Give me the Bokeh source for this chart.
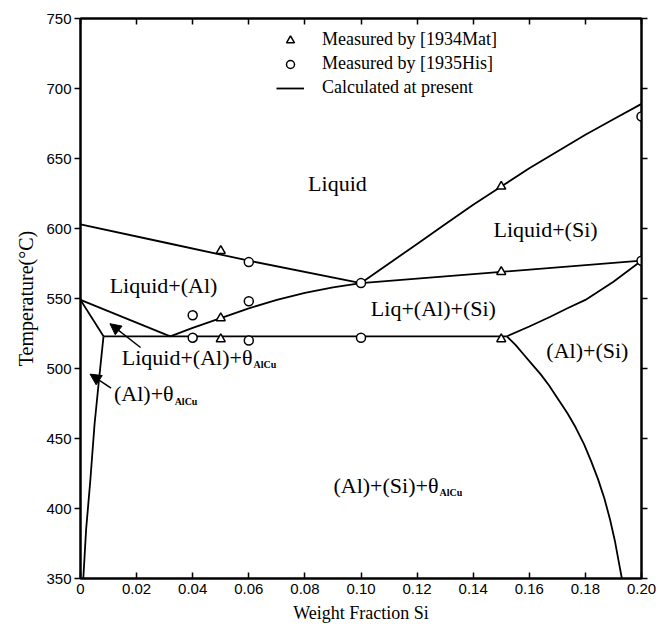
from bokeh.plotting import figure
from bokeh.models import (Range1d, LinearAxis, FixedTicker, Legend, LegendItem,
                          Arrow, NormalHead)
from bokeh.core.properties import value
from bokeh.embed import file_html
from bokeh.resources import INLINE

# ---------------- data ----------------
x_ticks = [0, 0.02, 0.04, 0.06, 0.08, 0.10, 0.12, 0.14, 0.16, 0.18, 0.20]
x_tick_labels = ["0", "0.02", "0.04", "0.06", "0.08", "0.10", "0.12", "0.14", "0.16", "0.18", "0.20"]
y_ticks = [350, 400, 450, 500, 550, 600, 650, 700, 750]

# measured points
mat_x = [0.05, 0.05, 0.05, 0.15, 0.15, 0.15]
mat_t = [584, 536, 521, 630, 569, 521]
his_x = [0.04, 0.04, 0.06, 0.06, 0.06, 0.10, 0.10, 0.20, 0.20]
his_t = [538, 522, 576, 548, 520, 561, 522, 680, 577]

# calculated boundaries
liq_al_x = [0.0, 0.03, 0.06, 0.10]
liq_al_t = [603, 590, 577, 561]
liq_si_x = [0.10, 0.11, 0.12, 0.13, 0.14, 0.15, 0.16, 0.17, 0.18, 0.19, 0.20]
liq_si_t = [561, 575, 589, 603, 617, 630, 643, 655, 667, 678, 689]
trough_x = [0.10, 0.15, 0.20]
trough_t = [561, 569, 577]
al_si_liq_x = [0.032, 0.04, 0.05, 0.06, 0.07, 0.08, 0.09, 0.10]
al_si_liq_t = [523, 529, 536, 543, 549, 554, 558, 561]
eutectic_x = [0.0082, 0.152]
eutectic_t = [523, 523]
right_up_x = [0.152, 0.16, 0.1675, 0.1736, 0.18, 0.19, 0.20]
right_up_t = [523, 530, 537, 543, 549, 562, 577]
si_solvus_x = [0.152, 0.155, 0.158, 0.161, 0.164, 0.167, 0.170, 0.1736, 0.1765,
               0.1795, 0.182, 0.1845, 0.1868, 0.1888, 0.1905, 0.1918, 0.193]
si_solvus_t = [523, 517, 510, 503, 496, 488, 479, 468, 458,
               446, 434, 421, 407, 392, 377, 363, 350]
left_a_x = [0.0, 0.032]
left_a_t = [549, 523]
left_b_x = [0.0, 0.0082]
left_b_t = [549, 523]
al_solvus_x = [0.0082, 0.0065, 0.005, 0.0035, 0.002, 0.001]
al_solvus_t = [523, 490, 460, 420, 385, 350]

curves = [
    (liq_al_x, liq_al_t), (liq_si_x, liq_si_t), (trough_x, trough_t),
    (al_si_liq_x, al_si_liq_t), (eutectic_x, eutectic_t), (right_up_x, right_up_t),
    (si_solvus_x, si_solvus_t), (left_a_x, left_a_t), (left_b_x, left_b_t),
    (al_solvus_x, al_solvus_t),
]

# region labels
region_text = ["Liquid", "Liquid+(Si)", "Liquid+(Al)", "Liq+(Al)+(Si)", "(Al)+(Si)"]
region_x = [0.0916, 0.1658, 0.0296, 0.1258, 0.1807]
region_t = [632, 599, 559, 543, 513]

# labels with theta_AlCu subscripts: main text right-aligned at anchor, subscript left
theta_text = ["Liquid+(Al)+θ", "(Al)+θ", "(Al)+(Si)+θ"]
theta_x = [0.0613, 0.0332, 0.1276]
theta_t = [508, 482, 416.5]
sub_text = ["AlCu", "AlCu", "AlCu"]
sub_t = [503, 476.5, 411.5]

# arrows (tail -> head)
arrow_x0 = [0.0214, 0.0109]
arrow_t0 = [515, 486]
arrow_x1 = [0.0105, 0.0034]
arrow_t1 = [532, 496]

SERIF = "Liberation Serif"
SANS = "Liberation Sans"

p = figure(width=659, height=627, output_backend="svg", toolbar_location=None,
           x_range=Range1d(0, 0.20), y_range=Range1d(350, 750),
           min_border_left=80, min_border_right=18, min_border_top=18, min_border_bottom=49)
p.grid.visible = False
p.outline_line_color = "black"
p.outline_line_width = 2
p.background_fill_color = "white"
p.border_fill_color = "white"

# bottom axis
xa = p.xaxis[0]
xa.ticker = FixedTicker(ticks=x_ticks)
xa.major_label_overrides = {t: l for t, l in zip(x_ticks, x_tick_labels)}
xa.major_tick_in = 6
xa.major_tick_out = 0
xa.minor_tick_line_color = None
xa.axis_line_width = 2
xa.major_tick_line_width = 1.5
xa.major_label_text_font = SANS
xa.major_label_text_font_size = "15px"
xa.major_label_text_color = "black"
xa.major_label_standoff = 5
xa.axis_label = "Weight Fraction Si"
xa.axis_label_text_font = SERIF
xa.axis_label_text_font_style = "normal"
xa.axis_label_text_font_size = "18px"
xa.axis_label_text_color = "black"
xa.axis_label_standoff = 6

ya = p.yaxis[0]
ya.ticker = FixedTicker(ticks=y_ticks)
ya.major_tick_in = 0
ya.major_tick_out = 6
ya.minor_tick_line_color = None
ya.axis_line_width = 2
ya.major_tick_line_width = 1.5
ya.major_label_text_font = SANS
ya.major_label_text_font_size = "15px"
ya.major_label_text_color = "black"
ya.major_label_standoff = 3
ya.axis_label = "Temperature(°C)"
ya.axis_label_text_font = SERIF
ya.axis_label_text_font_style = "normal"
ya.axis_label_text_font_size = "20px"
ya.axis_label_text_color = "black"
ya.axis_label_standoff = 6

# top axis: inward ticks, no labels
top = LinearAxis(ticker=FixedTicker(ticks=x_ticks), major_tick_in=6, major_tick_out=0,
                 minor_tick_line_color=None, axis_line_width=2, major_tick_line_width=1.5,
                 major_label_text_font_size="1px", major_label_text_color=None,
                 major_label_standoff=0)
p.add_layout(top, "above")
right = LinearAxis(ticker=FixedTicker(ticks=y_ticks), major_tick_in=0, major_tick_out=6,
                   minor_tick_line_color=None, axis_line_width=2, major_tick_line_width=1.5,
                   major_label_text_font_size="1px", major_label_text_color=None,
                   major_label_standoff=0)
p.add_layout(right, "right")

# curves
line_r = None
for cx, ct in curves:
    r = p.line(cx, ct, line_color="black", line_width=1.8)
    if line_r is None:
        line_r = r

tri = p.scatter(mat_x, mat_t, marker="triangle", size=9, fill_color="white",
                line_color="black", line_width=1.5)
circ = p.scatter(his_x, his_t, marker="circle", size=9, fill_color="white",
                 line_color="black", line_width=1.5)

# region texts
p.text(region_x, region_t, text=region_text, text_font=value(SERIF),
       text_font_size="22px", text_align="center", text_baseline="middle", text_color="black")
p.text(theta_x, theta_t, text=theta_text, text_font=value(SERIF),
       text_font_size="22px", text_align="right", text_baseline="middle", text_color="black")
p.text(theta_x, sub_t, text=sub_text, text_font=value(SERIF), text_font_style="bold",
       text_font_size="10px", text_align="left", text_baseline="middle", text_color="black",
       x_offset=1)

for x0, t0, x1, t1 in zip(arrow_x0, arrow_t0, arrow_x1, arrow_t1):
    p.add_layout(Arrow(x_start=x0, y_start=t0, x_end=x1, y_end=t1, line_width=1.5,
                       line_color="black",
                       end=NormalHead(size=11, fill_color="black", line_color="black")))

legend = Legend(items=[
    LegendItem(label="Measured by [1934Mat]", renderers=[tri]),
    LegendItem(label="Measured by [1935His]", renderers=[circ]),
    LegendItem(label="Calculated at present", renderers=[line_r]),
], location=(196, 480), padding=0, margin=0, spacing=3,
   glyph_width=28, glyph_height=20, label_height=20, label_standoff=18,
   label_text_font=SERIF, label_text_font_size="18px", label_text_color="black",
   border_line_alpha=0, background_fill_alpha=0)
p.add_layout(legend, "center")

open("out.html", "w").write(file_html(p, INLINE))
